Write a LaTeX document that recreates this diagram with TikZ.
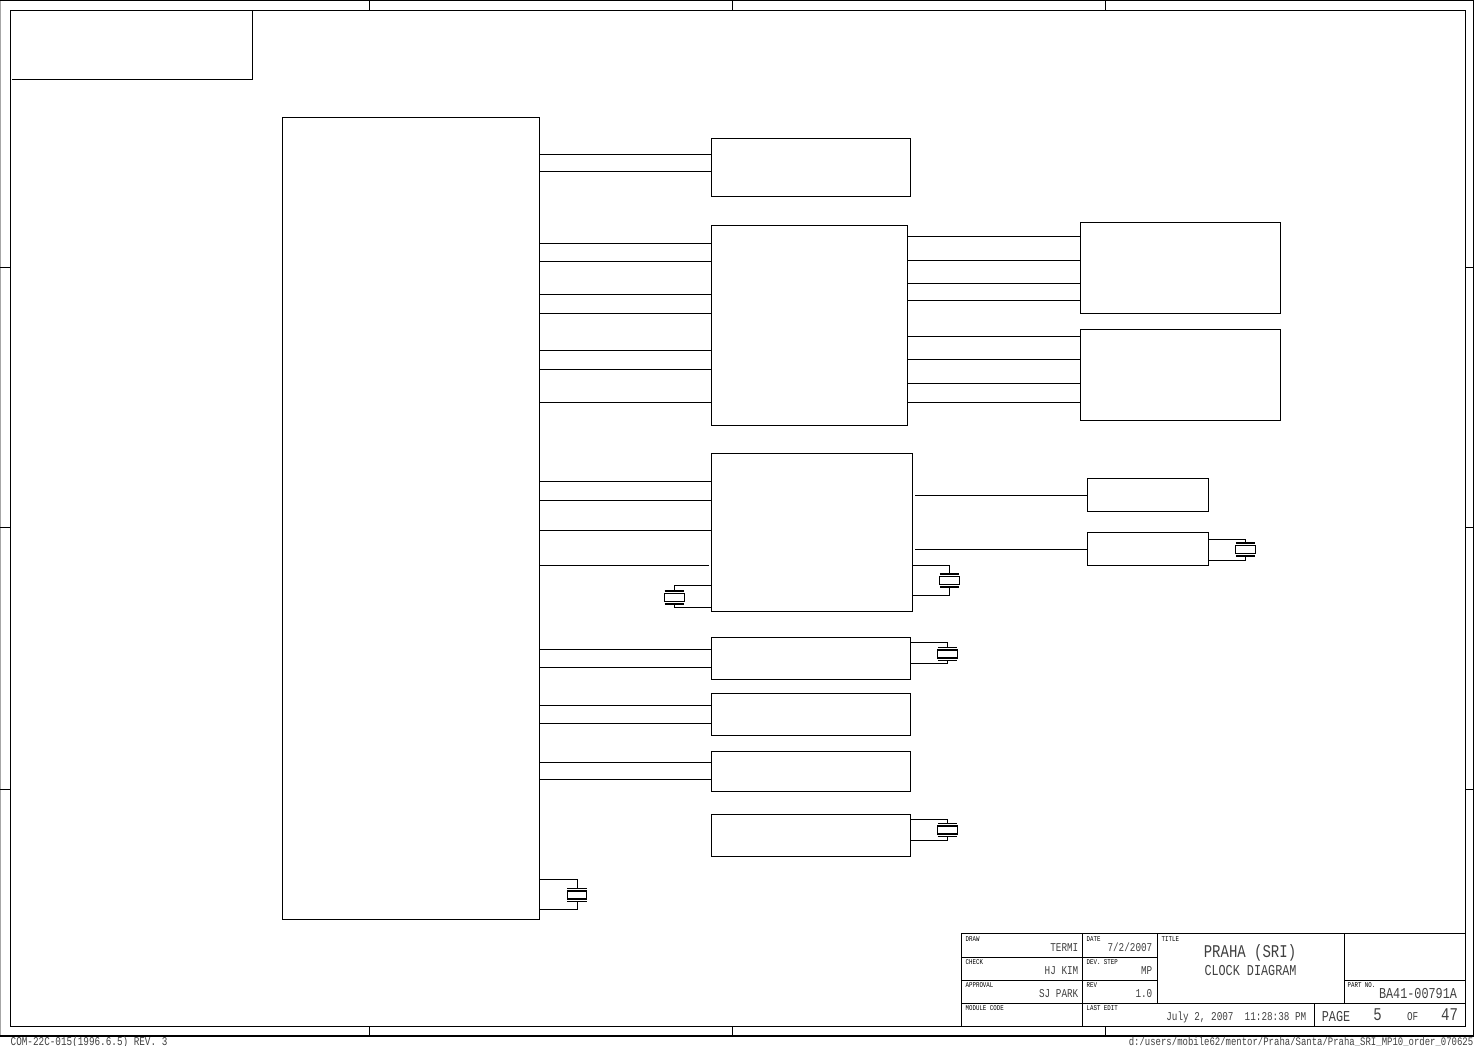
\documentclass[tikz,border=0pt]{standalone}
\usepackage{fontspec}
\usepackage{tikz}
\usetikzlibrary{calc, positioning}
\newfontfamily\cadfont[FakeStretch=0.78]{Liberation Mono}
\begin{document}
\begin{tikzpicture}[
    x=0.01cm, y=-0.01cm,
    wire/.style={line width=0.01cm},
    block/.style={draw, line width=0.01cm, inner sep=0pt, outer sep=0pt},
    xtal/.style={draw, line width=0.011cm, fill=white, inner sep=0pt, outer sep=0pt, minimum width=0.195cm, minimum height=0.08cm},
    plate/.style={line width=0.014cm},
    rule/.style={line width=0.01cm},
    heavyrule/.style={line width=0.022cm},
    tinytext/.style={font=\cadfont\fontsize{2.1}{2.1}\selectfont, text=black, inner sep=0pt, anchor=north west},
    smalltext/.style={font=\cadfont\fontsize{3.4}{3.4}\selectfont, text=black!75, inner sep=0pt, anchor=base east},
    midtext/.style={font=\cadfont\fontsize{4.3}{4.3}\selectfont, text=black!75, inner sep=0pt},
    bigtext/.style={font=\cadfont\fontsize{5.1}{5.1}\selectfont, text=black!75, inner sep=0pt},
]
    \useasboundingbox (0,0) rectangle (1475,1046);

    % Sheet frame
    \node[inner sep=0pt, outer sep=0pt, minimum width=14.73cm, minimum height=10.355cm] (sheet) at (737,518.25) {};
    \node[block, minimum width=14.55cm, minimum height=10.16cm] (frame) at (738,518.5) {};
    \draw[line width=0.02cm, black!35] (sheet.north west) -- (sheet.south west);
    \draw[rule] (sheet.north west) -- (sheet.north east) -- (sheet.south east);
    \draw[heavyrule] (sheet.south west) -- (sheet.south east);
    \foreach \x in {369.5,732.5,1105.5} {
        \draw[rule] (\x,0 |- sheet.north) -- (\x,0 |- frame.north);
        \draw[rule] (\x,0 |- frame.south) -- (\x,0 |- sheet.south);
    }
    \foreach \y in {267.5,527.5,789.5} {
        \draw[rule] (sheet.west |- 0,\y) -- (frame.west |- 0,\y);
        \draw[rule] (frame.east |- 0,\y) -- (sheet.east |- 0,\y);
    }

    % Empty corner box
    \coordinate (cornerA) at (12,79.5);
    \draw[rule] (cornerA) -- (252.5,79.5) -- (252.5,0 |- frame.north);

    % Blocks
    \node[block, minimum width=2.57cm, minimum height=8.02cm] (cpu) at (411,518.5) {};
    \node[block, minimum width=1.99cm, minimum height=0.58cm] (buffer) at (811,167.5) {};
    \node[block, minimum width=1.96cm, minimum height=2.00cm] (clockgen) at (809.5,325.5) {};
    \node[block, minimum width=2.00cm, minimum height=0.91cm] (memA) at (1180.5,268) {};
    \node[block, minimum width=2.00cm, minimum height=0.91cm] (memB) at (1180.5,375) {};
    \node[block, minimum width=2.01cm, minimum height=1.58cm] (hub) at (812,532.5) {};
    \node[block, minimum width=1.21cm, minimum height=0.33cm] (outA) at (1148,495) {};
    \node[block, minimum width=1.21cm, minimum height=0.33cm] (outB) at (1148,549) {};
    \node[block, minimum width=1.99cm, minimum height=0.42cm] (chipA) at (811,658.5) {};
    \node[block, minimum width=1.99cm, minimum height=0.42cm] (chipB) at (811,714.5) {};
    \node[block, minimum width=1.99cm, minimum height=0.40cm] (chipC) at (811,771.5) {};
    \node[block, minimum width=1.99cm, minimum height=0.42cm] (chipD) at (811,835.5) {};

    % Wires
    \foreach \y in {154.5,171.5} \draw[wire] (cpu.east |- 0,\y) -- (buffer.west |- 0,\y);
    \foreach \y in {243.5,261.5,294.5,313.5,350.5,369.5,402.5} \draw[wire] (cpu.east |- 0,\y) -- (clockgen.west |- 0,\y);
    \foreach \y in {236.5,260.5,283.5,300.5} \draw[wire] (clockgen.east |- 0,\y) -- (memA.west |- 0,\y);
    \foreach \y in {336.5,359.5,383.5,402.5} \draw[wire] (clockgen.east |- 0,\y) -- (memB.west |- 0,\y);
    \foreach \y in {481.5,500.5,530.5} \draw[wire] (cpu.east |- 0,\y) -- (hub.west |- 0,\y);
    \draw[wire] (cpu.east |- 0,565.5) -- ([xshift=-0.025cm]hub.west |- 0,565.5);
    \draw[wire] ([xshift=0.025cm]hub.east |- 0,495.5) -- (outA.west |- 0,495.5);
    \draw[wire] ([xshift=0.025cm]hub.east |- 0,549.5) -- (outB.west |- 0,549.5);
    \foreach \y in {649.5,667.5} \draw[wire] (cpu.east |- 0,\y) -- (chipA.west |- 0,\y);
    \foreach \y in {705.5,723.5} \draw[wire] (cpu.east |- 0,\y) -- (chipB.west |- 0,\y);
    \foreach \y in {762.5,779.5} \draw[wire] (cpu.east |- 0,\y) -- (chipC.west |- 0,\y);

    % Crystals
    \foreach \nm/\src/\cx/\cy/\top/\bot in {
        xtalA/outB.east/1245.5/549.5/539.5/560.5,
        xtalB/hub.east/949.5/580.5/565.5/595.5,
        xtalC/hub.west/674.5/597.5/585.5/607.5,
        xtalD/chipA.east/947.5/654/642.5/663.5,
        xtalE/chipD.east/947.5/830/819.5/840.5,
        xtalF/cpu.east/577/895/879.5/909.5%
    } {
        \node[xtal] (\nm) at (\cx,\cy) {};
        \draw[plate] ($(\nm.north west)+(0,-2.5)$) -- ($(\nm.north east)+(0,-2.5)$);
        \draw[plate] ($(\nm.south west)+(0,2.5)$) -- ($(\nm.south east)+(0,2.5)$);
        \draw[wire] (\src |- 0,\top) -| ($(\nm.north)+(0,-2.5)$);
        \draw[wire] (\src |- 0,\bot) -| ($(\nm.south)+(0,2.5)$);
    }

    % Title block
    \node[block, minimum width=5.04cm, minimum height=0.93cm] (titleblk) at (1213.5,980) {};
    \coordinate (colA) at (1082.5,0);
    \coordinate (colB) at (1157.5,0);
    \coordinate (colC) at (1344.5,0);
    \coordinate (colD) at (1314.5,0);
    \draw[rule] (colA |- titleblk.north) -- (colA |- titleblk.south);
    \draw[rule] (colB |- titleblk.north) -- (colB |- 0,1003.5);
    \draw[rule] (colC |- titleblk.north) -- (colC |- 0,1003.5);
    \draw[rule] (colD |- 0,1003.5) -- (colD |- titleblk.south);
    \foreach \y in {957.5,980.5} \draw[rule] (titleblk.west |- 0,\y) -- (colB |- 0,\y);
    \draw[rule] (colC |- 0,980.5) -- (titleblk.east |- 0,980.5);
    \draw[rule] (titleblk.west |- 0,1003.5) -- (titleblk.east |- 0,1003.5);

    % Title block text
    \node[tinytext] (lblDraw) at (965,935.5) {DRAW};
    \node[tinytext] (lblCheck) at (965,958.5) {CHECK};
    \node[tinytext] (lblApproval) at (965,981.5) {APPROVAL};
    \node[tinytext] (lblModule) at (965,1004.5) {MODULE CODE};
    \node[tinytext] (lblDate) at (1086,935.5) {DATE};
    \node[tinytext] (lblStep) at (1086,958.5) {DEV. STEP};
    \node[tinytext] (lblRev) at (1086,981.5) {REV};
    \node[tinytext] (lblEdit) at (1086,1004.5) {LAST EDIT};
    \node[tinytext] (lblTitle) at (1161,935.5) {TITLE};
    \node[tinytext] (lblPart) at (1347,981.5) {PART NO.};
    \node[smalltext] (valDraw) at (1079,951) {TERMI};
    \node[smalltext] (valCheck) at (1079,974) {HJ KIM};
    \node[smalltext] (valApproval) at (1079,997) {SJ PARK};
    \node[smalltext] (valDate) at (1153,951) {7/2/2007};
    \node[smalltext] (valStep) at (1153,974) {MP};
    \node[smalltext] (valRev) at (1153,998) {1.0};
    \node[bigtext] (nameA) at (1250,953) {PRAHA (SRI)};
    \node[midtext] (nameB) at (1250.5,971) {CLOCK DIAGRAM};
    \node[midtext] (partNo) at (1418,994) {BA41-00791A};
    \node[smalltext] (editTime) at (1307,1021) {July 2, 2007\ \ 11:28:38 PM};
    \node[midtext] (lblPage) at (1336,1017) {PAGE};
    \node[bigtext] (pageNo) at (1377.5,1015) {5};
    \node[smalltext] (lblOf) at (1419,1021) {OF};
    \node[bigtext] (pageAll) at (1449.5,1015) {47};

    % Margin text
    \node[smalltext, anchor=base west] (formNo) at (10,1045) {COM-22C-015(1996.6.5) REV. 3};
    \node[smalltext, font=\cadfont\fontsize{3.27}{3.27}\selectfont] (filePath) at (1474,1045) {d:/users/mobile62/mentor/Praha/Santa/Praha\_SRI\_MP10\_order\_070625};
\end{tikzpicture}
\end{document}
